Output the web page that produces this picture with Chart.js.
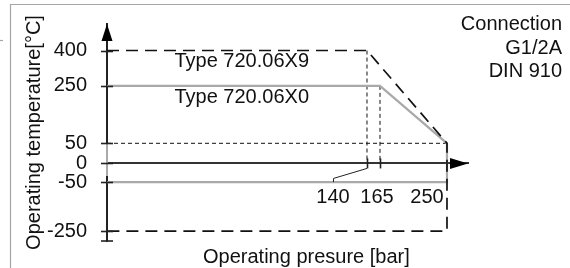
<!DOCTYPE html>
<html><head><meta charset="utf-8">
<script src="https://cdn.jsdelivr.net/npm/chart.js@4/dist/chart.umd.min.js"></script>
<style>html,body{margin:0;padding:0;background:#fff;}#wrap{width:570px;height:268px;}</style>
</head><body><div id="wrap"><canvas id="c" width="570" height="268"></canvas></div>
<script>
// ---- data ----
const PRESSURE_TICKS = [140, 165, 250];
const TEMP_TICKS = [-250, -50, 0, 50, 250, 400];
const X9_PRESSURE = [0, 140, 250, 250, 0];
const X9_TEMP = [400, 400, 50, -250, -250];
const X0_PRESSURE = [0, 165, 250, 250, 0];
const X0_TEMP = [250, 250, 50, -50, -50];
const GUIDE50_PRESSURE = [0, 250];
const GUIDE50_TEMP = [50, 50];
const GUIDE140_PRESSURE = [140, 140];
const GUIDE140_TEMP = [400, 0];
const GUIDE165_PRESSURE = [165, 165];
const GUIDE165_TEMP = [250, 0];
const SERIES_NAMES = ['Type 720.06X9', 'Type 720.06X0'];
const CONNECTION_TEXT = ['Connection', 'G1/2A', 'DIN 910'];
const X_TITLE = 'Operating presure [bar]';
const Y_TITLE = 'Operating temperature[°C]';

// ---- schematic (non-proportional) axis layout ----
const BREAKS = {
  x: {values: [0, 140, 165, 250, 275], fractions: [0, 0.7202, 0.7562, 0.9418, 1]},
  y: {values: [-285, -250, -50, 0, 50, 250, 400, 520], fractions: [0, 0.0452, 0.2715, 0.3575, 0.4502, 0.7149, 0.8778, 1]}
};
function interp(xs, ys, v) {
  if (v <= xs[0]) return ys[0] + (v - xs[0]) * (ys[1] - ys[0]) / (xs[1] - xs[0]);
  for (let i = 1; i < xs.length; i++) {
    if (v <= xs[i]) return ys[i-1] + (v - xs[i-1]) * (ys[i] - ys[i-1]) / (xs[i] - xs[i-1]);
  }
  const n = xs.length - 1;
  return ys[n] + (v - xs[n]) * (ys[n] - ys[n-1]) / (xs[n] - xs[n-1]);
}
class SchematicScale extends Chart.LinearScale {
  getPixelForValue(value) {
    const k = BREAKS[this.axis];
    return this.getPixelForDecimal(interp(k.values, k.fractions, value));
  }
  getValueForPixel(pixel) {
    const k = BREAKS[this.axis];
    return interp(k.fractions, k.values, this.getDecimalForPixel(pixel));
  }
}
SchematicScale.id = 'schematic';
SchematicScale.defaults = Chart.LinearScale.defaults;
Chart.register(SchematicScale);

const FONT = "'Liberation Sans', Arial, sans-serif";
Chart.defaults.font.family = FONT;
Chart.defaults.color = '#111';

const pts = (xs, ys) => xs.map((x, i) => ({x: x, y: ys[i]}));
const dotted = {borderColor: '#111', borderWidth: 1, borderDash: [4, 3]};

const decor = {
  id: 'decor',
  afterDatasetsDraw(chart) {
    const ctx = chart.ctx, xs = chart.scales.x, ys = chart.scales.y, ca = chart.chartArea;
    const x0 = xs.getPixelForValue(0), y0 = ys.getPixelForValue(0);
    ctx.save();
    // frame
    ctx.strokeStyle = '#a6a6a6'; ctx.lineWidth = 1.2;
    ctx.beginPath(); ctx.moveTo(10.5, 268); ctx.lineTo(10.5, 4.5); ctx.lineTo(570, 4.5); ctx.stroke();
    ctx.beginPath(); ctx.moveTo(0, 40.5); ctx.lineTo(3, 40.5); ctx.stroke();
    // grey stretch of the y axis between 50 and the -50 tick
    ctx.strokeStyle = '#a9a9a9'; ctx.lineWidth = 2;
    ctx.beginPath(); ctx.moveTo(x0, ys.getPixelForValue(50)); ctx.lineTo(x0, ys.getPixelForValue(-50) - 6); ctx.stroke();
    // y tick crosses
    ctx.strokeStyle = '#222'; ctx.lineWidth = 1.6;
    ys.ticks.forEach(t => {
      const p = Math.round(ys.getPixelForValue(t.value)) + 0.5;
      ctx.beginPath(); ctx.moveTo(x0 - 6, p); ctx.lineTo(x0 + 6, p); ctx.stroke();
    });
    ctx.beginPath(); ctx.moveTo(x0 - 6, ca.bottom); ctx.lineTo(x0 + 6, ca.bottom); ctx.stroke();
    // x tick crosses (140, 165)
    [PRESSURE_TICKS[0], PRESSURE_TICKS[1]].forEach(v => {
      const p = Math.round(xs.getPixelForValue(v)) + 0.5;
      ctx.beginPath(); ctx.moveTo(p, y0 - 5); ctx.lineTo(p, y0 + 5); ctx.stroke();
    });
    // arrows
    ctx.fillStyle = '#000';
    ctx.beginPath(); ctx.moveTo(x0, ca.top); ctx.lineTo(x0 - 5.5, ca.top + 17); ctx.lineTo(x0 + 5.5, ca.top + 17); ctx.closePath(); ctx.fill();
    ctx.beginPath(); ctx.moveTo(ca.right, y0); ctx.lineTo(ca.right - 18, y0 - 5.5); ctx.lineTo(ca.right - 18, y0 + 5.5); ctx.closePath(); ctx.fill();
    // x tick labels (schematic offsets) + leader for 140
    ctx.font = '20px ' + FONT; ctx.fillStyle = '#111'; ctx.textAlign = 'center'; ctx.textBaseline = 'alphabetic';
    const offs = [-34, -3, -20];
    PRESSURE_TICKS.forEach((v, i) => ctx.fillText(String(v), xs.getPixelForValue(v) + offs[i], 203));
    const p140 = xs.getPixelForValue(PRESSURE_TICKS[0]);
    ctx.lineWidth = 1; ctx.strokeStyle = '#222';
    ctx.beginPath(); ctx.moveTo(p140 - 34 + 0.5, ys.getPixelForValue(-50)); ctx.lineTo(p140 - 34 + 0.5, y0 + 15); ctx.lineTo(p140, y0 + 5); ctx.stroke();
    // series labels
    ctx.textAlign = 'right';
    ctx.fillText(SERIES_NAMES[0], 309, 67);
    ctx.fillText(SERIES_NAMES[1], 309, 103);
    // connection text
    CONNECTION_TEXT.forEach((s, i) => ctx.fillText(s, 562, 30 + i * 23.5));
    // x title
    ctx.textAlign = 'left';
    ctx.fillText(X_TITLE, 203, 263);
    ctx.restore();
  }
};

new Chart(document.getElementById('c'), {
  type: 'line',
  data: {
    datasets: [
      {label: SERIES_NAMES[0], data: pts(X9_PRESSURE, X9_TEMP), borderColor: '#111', borderWidth: 1.7, borderDash: [12, 7], borderJoinStyle: 'miter'},
      {label: SERIES_NAMES[1], data: pts(X0_PRESSURE, X0_TEMP), borderColor: '#a9a9a9', borderWidth: 2.2, borderJoinStyle: 'miter'},
      Object.assign({label: 'guide50', data: pts(GUIDE50_PRESSURE, GUIDE50_TEMP)}, dotted),
      Object.assign({label: 'guide140', data: pts(GUIDE140_PRESSURE, GUIDE140_TEMP)}, dotted),
      Object.assign({label: 'guide165', data: pts(GUIDE165_PRESSURE, GUIDE165_TEMP)}, dotted)
    ]
  },
  options: {
    responsive: false, animation: false, events: [],
    layout: {padding: {left: 10, right: 102, top: 20, bottom: 27}},
    elements: {point: {radius: 0}, line: {tension: 0, fill: false}},
    plugins: {legend: {display: false}, tooltip: {enabled: false}},
    scales: {
      x: {
        type: 'schematic', min: 0, max: 275, position: {y: 0},
        grid: {display: false}, border: {display: true, color: '#333', width: 2},
        ticks: {display: false},
        afterBuildTicks: a => { a.ticks = PRESSURE_TICKS.map(v => ({value: v})); }
      },
      y: {
        type: 'schematic', min: -285, max: 520, position: 'left',
        grid: {display: false}, border: {display: true, color: '#222', width: 2},
        ticks: {padding: 12, color: '#111', font: {size: 20}, callback: v => String(v)},
        afterBuildTicks: a => { a.ticks = TEMP_TICKS.map(v => ({value: v})); },
        afterFit: s => { s.width = 97; },
        title: {display: true, text: Y_TITLE, color: '#111', font: {size: 20}, padding: {top: 12, bottom: 0}}
      }
    }
  },
  plugins: [decor]
});
</script></body></html>
